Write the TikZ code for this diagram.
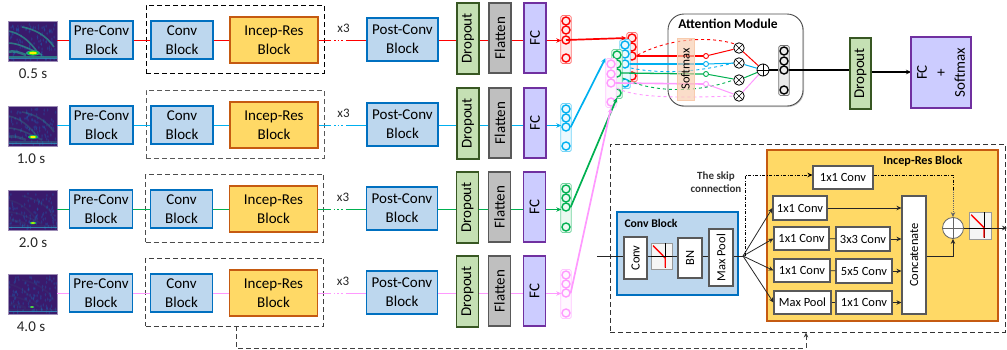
\documentclass[tikz,border=0pt]{standalone}
\usepackage{fontspec}
\setmainfont{Carlito}
\usetikzlibrary{arrows.meta,calc}
\definecolor{cRed}{HTML}{FF0000}\definecolor{cBlue}{HTML}{00B0F0}\definecolor{cGreen}{HTML}{00B050}\definecolor{cPink}{HTML}{FF99FF}
\definecolor{bFill}{HTML}{BDD7EE}\definecolor{bLine}{HTML}{0070C0}
\definecolor{yFill}{HTML}{FFD966}\definecolor{yLine}{HTML}{C55A11}
\definecolor{gFill}{HTML}{C5E0B4}\definecolor{gLine}{HTML}{385723}
\definecolor{fFill}{HTML}{BFBFBF}\definecolor{fLine}{HTML}{595959}
\definecolor{pFill}{HTML}{CCCCFF}\definecolor{pLine}{HTML}{7030A0}
\definecolor{sFill}{HTML}{3A1A6C}
\definecolor{sTeal}{HTML}{2A9D8F}
\definecolor{softF}{HTML}{F8CBAD}
\tikzset{
 blk/.style={draw,line width=1.5pt,inner sep=0pt,align=center,text=black,font=\fontsize{15}{19}\selectfont},
 bluebox/.style={blk,fill=bFill,draw=bLine},
 yelbox/.style={blk,fill=yFill,draw=yLine},
 grnbox/.style={blk,fill=gFill,draw=gLine},
 grybox/.style={blk,fill=fFill,draw=fLine},
 purbox/.style={blk,fill=pFill,draw=pLine},
 whitebox/.style={draw=black!65,line width=1.1pt,fill=white,inner sep=0pt,text=black,font=\fontsize{12.5}{14}\selectfont},
 conn/.style={line width=1.7pt},
 thin conn/.style={line width=.8pt,draw=black!85},
 arr/.style={-{Stealth[length=5pt,width=4.5pt]}},
 dbox/.style={line width=.9pt,dash pattern=on 5pt off 3pt},
 neuron/.style={circle,draw,line width=1.4pt,fill=none,minimum size=8pt,inner sep=0pt},
 mini/.style={circle,draw,line width=.9pt,fill=white,minimum size=5pt,inner sep=0pt},
 opn/.style={circle,draw=black,line width=.8pt,fill=white,inner sep=0pt},
 lbltxt/.style={font=\fontsize{15}{17}\selectfont,text=black!85},
}
% \hbx{name}{style}{x1}{y1}{x2}{y2}{text}
\newcommand{\hbx}[7]{\node[#2,minimum width=#5pt-#3pt,minimum height=#6pt-#4pt] (#1) at ({(#3+#5)/2},{(#4+#6)/2}) {#7};}
% rotated text box
\newcommand{\vbx}[7]{\node[#2,rotate=90,minimum width=#6pt-#4pt,minimum height=#5pt-#3pt] (#1) at ({(#3+#5)/2},{(#4+#6)/2}) {#7};}
% \stack{name}{colour}{x}{y1}{y2}{y3}{y4}
\newcommand{\stack}[7]{%
 \node[draw=#2!55,fill=#2!8,rounded corners=1.5pt,line width=.7pt,minimum width=10.5pt,minimum height=#7pt-#4pt+11pt,inner sep=0pt] (#1bg) at (#3,{(#4+#7)/2}) {};
 \node[neuron,draw=#2] (#11) at (#3,#4) {};
 \node[neuron,draw=#2] (#12) at (#3,#5) {};
 \node[neuron,draw=#2] (#13) at (#3,#6) {};
 \node[neuron,draw=#2] (#14) at (#3,#7) {};
}
% \spec{x}{y}{seed}{bright blob x}{blob y}{blob scale}{streak opacity}
\newcommand{\spec}[7]{%
 \begin{scope}
 \clip (#1,#2) rectangle ++(49,40);
 \fill[sFill] (#1,#2) rectangle ++(49,40);
 \pgfmathsetseed{#3}
 \foreach \k in {1,...,110}{
  \pgfmathsetmacro{\px}{#1+49*rnd}\pgfmathsetmacro{\py}{#2+3+36*rnd}
  \fill[cyan!50!blue,opacity=.3] (\px,\py) ellipse (.8 and 1.8);
 }
 \begin{scope}[line width=1.6pt,draw=sTeal,opacity=#7]
  \draw (#1,#2+10) .. controls +(12,2) and +(-8,-12) .. +(30,22);
  \draw (#1+14,#2+6) .. controls +(12,2) and +(-8,-12) .. +(32,20);
  \draw (#1,#2+22) .. controls +(10,0) and +(-12,-6) .. +(34,12);
  \draw[line width=2.5pt] (#1,#2+31) .. controls +(5,-2) and +(-5,-2) .. +(18,3);
  \draw[line width=2pt] (#1,#2+36) -- +(49,0);
 \end{scope}
 \fill[cyan!50!teal,opacity=.8] (#1,#2+36.5) rectangle ++(49,.8);
 \fill[sTeal] (#4,#5) ellipse ({7*#6} and {2.6*#6});
 \fill[green!70!teal] (#4,#5) ellipse ({5.5*#6} and {2*#6});
 \fill[yellow] (#4,#5) ellipse ({4*#6} and {1.4*#6});
 \end{scope}
 \draw[sFill!50,line width=.5pt] (#1,#2) rectangle ++(49,40);
}
% activation icon
\newcommand{\actv}[5]{%
 \node[draw=black!40,fill=black!4,line width=.7pt,inner sep=0pt,minimum width=#3pt-#1pt,minimum height=#4pt-#2pt] (#5) at ({(#1+#3)/2},{(#2+#4)/2}) {};
 \draw[black,line width=.8pt] ({#1+0.68*(#3-#1)},#2) -- ({#1+0.68*(#3-#1)},{#2+0.98*(#4-#2)});
 \draw[red,line width=1.4pt] ({#1+0.1*(#3-#1)},{#2+0.1*(#4-#2)}) -- ({#1+0.68*(#3-#1)},{#2+0.58*(#4-#2)}) -- ({#1+0.68*(#3-#1)},{#2+0.95*(#4-#2)});
}
\begin{document}
\begin{tikzpicture}[x=1pt,y=-1pt]
\useasboundingbox (0,0) rectangle (1007,349);
% ---- rows ----
\foreach \n/\rowc/\dx/\dy/\lx/\lab/\sx/\sy/\blobs/\nyA/\nyB/\nyC/\nyD/\sop/\dcol in {
 1/cRed/0/0/33/0.5 s/33/53/1/21/30/40/58/.7/black,
 2/cBlue/0/85/31/1.0 s/33/137/.75/109/118/127/146/.3/black!65,
 3/cGreen/-.5/169/33/2.0 s/33/223/.5/189/198/207/227/.1/black!70,
 4/cPink/-.5/253/31/4.0 s/32/307/.35/275/284/293/313/.08/black!75}{
 \spec{8}{21+\dy}{\n}{\sx}{\sy}{\blobs}{\sop}
 \node[lbltxt] (lab\n) at (\lx,{74+\dy}) {\lab};
 \coordinate (rowy\n) at (0,{40.5+\dy});
 \begin{scope}[shift={(\dx,\dy)}]
  \node[dbox,draw=\dcol,minimum width=178pt,minimum height=68pt,inner sep=0pt] (dash\n) at (235,39) {};
  \hbx{pre\n}{bluebox}{70}{21}{133}{59}{Pre-Conv\\Block}
  \hbx{conv\n}{bluebox}{151}{21}{213}{59}{Conv\\Block}
  \hbx{inc\n}{yelbox}{230}{17}{318}{63}{Incep-Res\\Block}
  \hbx{post\n}{bluebox}{367}{18}{438}{61}{Post-Conv\\Block}
  \vbx{drop\n}{grnbox}{457}{3}{479}{74}{Dropout}
  \vbx{flat\n}{grybox}{489}{3}{511}{73}{Flatten}
  \vbx{fc\n}{purbox}{524}{3}{546}{73}{FC}
  \node[font=\fontsize{13}{15}\selectfont,text=black!85] (xt\n) at (343.5,28) {x3};
  \coordinate (da\n) at (331,40.5);
  \coordinate (db\n) at (346,40.5);
 \end{scope}
 \stack{s\n}{\rowc}{566}{\nyA}{\nyB}{\nyC}{\nyD}
 \draw[conn,\rowc] (8+49,{40.5+\dy}) -- (pre\n.west |- rowy\n);
 \draw[conn,\rowc] (pre\n.east |- rowy\n) -- (conv\n.west |- rowy\n);
 \draw[conn,\rowc] (conv\n.east |- rowy\n) -- (inc\n.west |- rowy\n);
 \draw[conn,\rowc] (inc\n.east |- rowy\n) -- (da\n);
 \draw[conn,\rowc,dotted,line width=1pt] (da\n) ++(3,0) -- ($(db\n)+(-3,0)$);
 \draw[conn,\rowc] (db\n) -- (post\n.west |- rowy\n);
 \draw[conn,\rowc] (post\n.east |- rowy\n) -- (drop\n.north |- rowy\n);
 \draw[conn,\rowc] (drop\n.south |- rowy\n) -- (flat\n.north |- rowy\n);
 \draw[conn,\rowc] (flat\n.south |- rowy\n) -- (fc\n.north |- rowy\n);
 \draw[conn,\rowc,arr] (fc\n.south |- rowy\n) -- (s\n3.west |- rowy\n);
}
% ---- attention module ----
\fill[black!22,rounded corners=16pt] (669,15) rectangle (804,107);
\node[draw=black!70,fill=white,line width=.9pt,rounded corners=16pt,minimum width=135pt,minimum height=92pt,inner sep=0pt] (att) at (735.5,60) {};
\node[font=\bfseries\fontsize{13.5}{15}\selectfont,text=black] (attt) at (728,24) {Attention Module};
% merged stacks
\stack{mr}{cRed}{632}{38}{47}{56}{76}
\stack{mb}{cBlue}{625}{45}{54}{64}{83}
\stack{mg}{cGreen}{617}{55}{64}{73}{93}
\stack{mp}{cPink}{611}{64}{74}{83}{102}
% feed arrows
\draw[conn,cRed,arr] (s13.center) -- (mrbg.west |- mr1.center);
\draw[conn,cBlue,arr] (s23.east) -- (mpbg.north west);
\draw[conn,cGreen,arr] (s33.east) -- (mg4.south);
\draw[conn,cPink,arr] (s43.east) -- (mpbg.south);
% mini nodes and operators
\node[mini,draw=cRed] (ma) at (706,56) {};
\node[mini,draw=cBlue] (mbb) at (706,64) {};
\node[mini,draw=cGreen] (mc) at (706,74) {};
\node[mini,draw=cPink] (md) at (706,84) {};
\foreach \nm/\yy in {oa/48,ob/63,oc/80,od/96}{
 \node[opn,minimum size=10.5pt] (\nm) at (739,\yy) {};
 \draw[line width=.6pt] (\nm.north west) -- (\nm.south east) (\nm.north east) -- (\nm.south west);
}
\node[opn,minimum size=12pt] (plus) at (763,70) {};
\draw[line width=.6pt] (plus.north) -- (plus.south) (plus.west) -- (plus.east);
\stack{ot}{black}{784}{51}{61}{70}{90}
% attention connections
\draw[cRed,line width=1.3pt] (mr3.east) -- (ma.west);
\draw[cBlue,line width=1.9pt] (mb3.east) -- (mbb.west);
\draw[cGreen,line width=1.3pt] (mg3.east) -- (mc.west);
\draw[cPink,line width=1.6pt] (mp3.east) -- (md.west);
\draw[cRed,line width=.9pt,dashed] (mrbg.east |- 0,55) .. controls (670,38) and (710,36) .. (oa.north west);
\draw[cBlue,line width=.9pt,dashed] (mbbg.east |- 0,68) .. controls (655,73) and (690,74) .. (ob.west);
\draw[cGreen,line width=.9pt,dashed] (mgbg.east |- 0,78) .. controls (650,92) and (695,94) .. (oc.west);
\draw[cPink,line width=.9pt,dashed] (mpbg.east |- 0,88) .. controls (635,98) and (680,98) .. (od.west);
\draw[cRed,line width=1pt] (ma) -- (oa);
\draw[cBlue,line width=1pt] (mbb) -- (ob);
\draw[cGreen,line width=1pt] (mc) -- (oc);
\draw[cPink,line width=1pt] (md) -- (od);
\draw[cRed,line width=1pt] (oa) -- (plus);
\draw[cBlue,line width=1pt] (ob) -- (plus);
\draw[cGreen,line width=1pt] (oc) -- (plus);
\draw[cPink,line width=1pt] (od) -- (plus);
\node[draw=softF,fill=softF,fill opacity=.65,text opacity=1,line width=.8pt,rotate=90,minimum width=62pt,minimum height=17pt,inner sep=0pt,font=\fontsize{12.5}{14}\selectfont] (soft) at (685.5,69) {Softmax};
\draw[black,conn] (plus) -- (otbg.west |- plus);
\draw[black,line width=1.6pt] (ot3.east |- plus) -- (850,70);
\vbx{dropf}{grnbox}{850}{38}{871}{109}{Dropout}
\draw[black,line width=1.6pt,arr] (dropf.south |- 0,72) -- (911,72);
\node[blk,fill=pFill,draw=pLine,rotate=90,minimum width=71pt,minimum height=60pt,font=\fontsize{15}{19}\selectfont] (fcs) at (941,72.5) {FC\\+\\Softmax};
% ---- detail panel ----
\node[dbox,draw=black!80,minimum width=395pt,minimum height=188pt,inner sep=0pt] (panel) at (807.5,238) {};
\draw[dbox,draw=black!75,arr] (dash4.south -| 236,0) -- (236,348) -- (806,348) -- (panel.south -| 806,0);
\node[draw=yLine,fill=yFill,line width=1.3pt,minimum width=231pt,minimum height=171pt,inner sep=0pt] (incd) at (882.5,235.5) {};
\node[font=\bfseries\fontsize{12.2}{14}\selectfont,text=black] (incdt) at (923,161) {Incep-Res Block};
\node[draw=bLine,fill=bFill,line width=1.2pt,minimum width=121pt,minimum height=83pt,inner sep=0pt] (convd) at (677.5,253.5) {};
\node[font=\bfseries\fontsize{11.7}{14}\selectfont,text=black] (convdt) at (651,223) {Conv Block};
\coordinate (inp) at (597,256);
\coordinate (junc) at (743,256);
\vbx{cv}{whitebox}{624}{237}{647}{279}{Conv}
\actv{651}{243}{672}{269}{act1}
\vbx{bn}{whitebox}{678}{238}{702}{278}{BN}
\vbx{mp}{whitebox}{709}{229}{733}{286}{Max Pool}
\hbx{a1}{whitebox}{773}{196}{827}{220}{1x1 Conv}
\hbx{b1}{whitebox}{774}{227}{829}{250}{1x1 Conv}
\hbx{b2}{whitebox}{836}{227}{890}{251}{3x3 Conv}
\hbx{c1}{whitebox}{774}{259}{830}{282}{1x1 Conv}
\hbx{c2}{whitebox}{836}{259}{892}{283}{5x5 Conv}
\hbx{d1}{whitebox}{774}{291}{831}{314}{Max Pool}
\hbx{d2}{whitebox}{836}{291}{892}{314}{1x1 Conv}
\vbx{cat}{whitebox}{902}{196}{926}{314}{Concatenate}
\hbx{sk}{whitebox}{813}{166}{873}{189}{1x1 Conv}
\node[opn,draw=black!60,minimum size=21pt] (sum) at (953,228) {};
\draw[black!60,line width=.6pt] (sum.north) -- (sum.south) (sum.west) -- (sum.east);
\actv{969}{212}{991}{239}{act2}
\draw[thin conn] (inp) -- (cv.north |- inp);
\draw[thin conn] (cv.south |- inp) -- (bn.north |- inp);
\draw[black,line width=.7pt] (act1.west |- inp) -- (act1.east |- inp);
\draw[thin conn] (bn.south |- inp) -- (mp.north |- inp);
\draw[thin conn] (mp.south |- inp) -- (junc);
\draw[thin conn,arr] (junc) -- (a1.west);
\draw[thin conn,arr] (junc) -- (b1.west);
\draw[thin conn,arr] (junc) -- (c1.west);
\draw[thin conn,arr] (junc) -- (d1.west);
\draw[thin conn,arr] (a1.east) -- (cat.north |- a1);
\draw[thin conn] (b1) -- (b2);
\draw[thin conn,arr] (b2.east) -- (cat.north |- b2);
\draw[thin conn] (c1) -- (c2);
\draw[thin conn,arr] (c2.east) -- (cat.north |- c2);
\draw[thin conn] (d1) -- (d2);
\draw[thin conn,arr] (d2.east) -- (cat.north |- d2);
\draw[thin conn,arr] (cat.south |- 0,256) -- (953,256) -- (sum.south);
\draw[black,line width=.7pt,dash pattern=on 3pt off 1.5pt on 1pt off 1.5pt,arr] (745,256) -- (745,175) -- (sk.west |- 0,175);
\draw[black,line width=.7pt,dash pattern=on 3pt off 1.5pt on 1pt off 1.5pt] (sk.east |- 0,175) -- (953,175) -- (953,190);
\draw[black!60,line width=.9pt,densely dotted,arr] (953,190) -- (sum.north);
\draw[thin conn] (sum.east) -- (act2.west |- sum);
\draw[black,line width=.8pt] (act2.west |- sum) -- (act2.east |- sum);
\draw[thin conn,arr] (act2.east |- sum) -- (1007,228);
\node[font=\bfseries\fontsize{11}{13}\selectfont,align=center,text=black!80] (skt) at (716,182.5) {The skip\\connection};
\end{tikzpicture}
\end{document}
